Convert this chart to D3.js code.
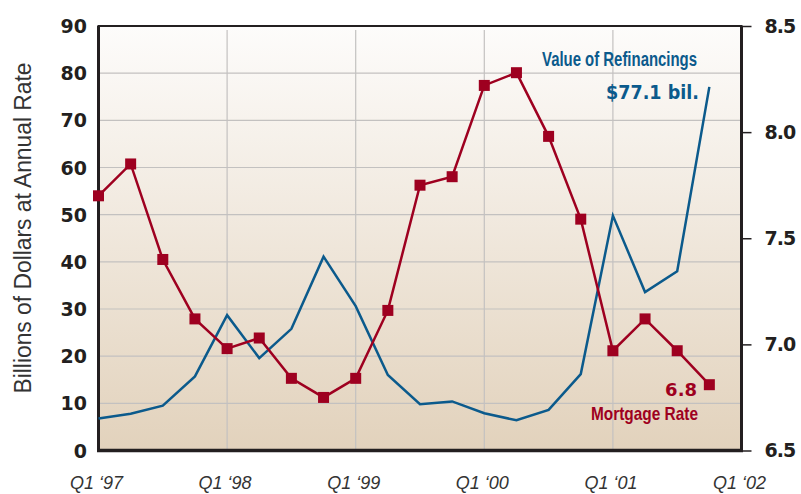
<!DOCTYPE html>
<html>
<head>
<meta charset="utf-8">
<script src="https://cdn.jsdelivr.net/npm/d3@7"></script>
<style>
  body { margin: 0; background: #fff; }
  svg { display: block; font-family: "Liberation Sans", Arial, sans-serif; }
</style>
</head>
<body>
<svg id="chart"></svg>
<script>
// quarters Q1 '97 .. Q4 '01
const quarters = d3.range(20);
const refinancing = [6.8, 7.8, 9.5, 15.7, 28.7, 19.6, 25.8, 41.1, 30.6, 16.0,
  9.8, 10.4, 7.9, 6.4, 8.6, 16.2, 49.8, 33.6, 38.0, 77.1];
const mortgageRate = [7.70, 7.85, 7.40, 7.12, 6.98, 7.03, 6.84, 6.75, 6.84, 7.16,
  7.75, 7.79, 8.22, 8.28, 7.98, 7.59, 6.97, 7.12, 6.97, 6.81];
const yearLabels = ["Q1 \u201897", "Q1 \u201898", "Q1 \u201899", "Q1 \u201800", "Q1 \u201801", "Q1 \u201802"];
const leftTicks = [0, 10, 20, 30, 40, 50, 60, 70, 80, 90];
const rightTicks = [6.5, 7.0, 7.5, 8.0, 8.5];

const width = 801, height = 494;
const plotLeft = 98.5, plotRight = 741.5, plotTop = 26, plotBottom = 450.5;
const blue = "#0b5a8c", red = "#9e0020";
const heavy = "DejaVu Sans, Liberation Sans, sans-serif";

const svg = d3.select("#chart").attr("width", width).attr("height", height);

const x = d3.scaleLinear().domain([0, 20]).range([plotLeft, plotRight]);
const yL = d3.scaleLinear().domain([0, 90]).range([plotBottom, plotTop]);
const yR = d3.scaleLinear().domain([6.5, 8.5]).range([plotBottom, plotTop]);

// background gradient
const grad = svg.append("defs").append("linearGradient")
  .attr("id", "bg").attr("x1", 0).attr("y1", 0).attr("x2", 0).attr("y2", 1);
grad.append("stop").attr("offset", "0%").attr("stop-color", "#fdfcfb");
grad.append("stop").attr("offset", "100%").attr("stop-color", "#e2d2bc");

svg.append("rect")
  .attr("x", plotLeft).attr("y", plotTop)
  .attr("width", plotRight - plotLeft).attr("height", plotBottom - plotTop)
  .attr("fill", "url(#bg)");

// grid
svg.append("g").selectAll("line")
  .data(leftTicks.slice(1, -1))
  .join("line")
  .attr("x1", plotLeft).attr("x2", plotRight)
  .attr("y1", d => yL(d)).attr("y2", d => yL(d))
  .attr("stroke", "#c3c1c0").attr("stroke-width", 1.2);

svg.append("g").selectAll("line")
  .data([4, 8, 12, 16])
  .join("line")
  .attr("x1", d => x(d)).attr("x2", d => x(d))
  .attr("y1", plotTop + 4).attr("y2", plotBottom)
  .attr("stroke", "#c3c1c0").attr("stroke-width", 1.2);

// frame
svg.append("line").attr("x1", plotLeft - 1).attr("x2", plotRight + 1).attr("y1", plotTop).attr("y2", plotTop)
  .attr("stroke", "#231f20").attr("stroke-width", 2);
svg.append("line").attr("x1", plotLeft).attr("x2", plotLeft).attr("y1", plotTop).attr("y2", plotBottom + 1.5)
  .attr("stroke", "#231f20").attr("stroke-width", 3);
svg.append("line").attr("x1", plotRight).attr("x2", plotRight).attr("y1", plotTop).attr("y2", plotBottom + 1.5)
  .attr("stroke", "#231f20").attr("stroke-width", 3);
svg.append("line").attr("x1", plotLeft - 1.5).attr("x2", plotRight + 1.5).attr("y1", plotBottom).attr("y2", plotBottom)
  .attr("stroke", "#231f20").attr("stroke-width", 3.5);

// left axis labels
svg.append("g").selectAll("text")
  .data(leftTicks)
  .join("text")
  .attr("x", 87).attr("y", d => yL(d) + 7)
  .attr("text-anchor", "end")
  .attr("font-family", heavy)
  .attr("font-size", 19).attr("font-weight", "bold")
  .attr("fill", "#231f20")
  .text(d => d);

// right axis
const rAxis = svg.append("g").attr("transform", `translate(${plotRight},0)`)
  .call(d3.axisRight(yR).tickValues(rightTicks).tickSize(10).tickPadding(13).tickFormat(d3.format(".1f")));
rAxis.select(".domain").remove();
rAxis.selectAll(".tick line").attr("stroke", "#231f20").attr("stroke-width", 1.5);
rAxis.selectAll(".tick text")
  .attr("font-family", heavy)
  .attr("font-size", 19).attr("font-weight", "bold").attr("fill", "#231f20")
  .attr("letter-spacing", -1);

// x labels
svg.append("g").selectAll("text")
  .data(yearLabels)
  .join("text")
  .attr("x", (d, i) => x(i * 4) - 2)
  .attr("y", 489)
  .attr("text-anchor", "middle")
  .attr("font-size", 18).attr("font-style", "italic")
  .attr("fill", "#333")
  .text(d => d);

// y title
svg.append("text")
  .attr("transform", `translate(31, 228) rotate(-90)`)
  .attr("text-anchor", "middle")
  .attr("font-size", 23).attr("fill", "#333")
  .attr("textLength", 331).attr("lengthAdjust", "spacingAndGlyphs")
  .text("Billions of Dollars at Annual Rate");

// refinancing line
svg.append("path")
  .datum(refinancing)
  .attr("fill", "none").attr("stroke", blue).attr("stroke-width", 2.5)
  .attr("d", d3.line().x((d, i) => x(quarters[i])).y(d => yL(d)));

// mortgage rate line + markers
svg.append("path")
  .datum(mortgageRate)
  .attr("fill", "none").attr("stroke", red).attr("stroke-width", 2.5)
  .attr("d", d3.line().x((d, i) => x(quarters[i])).y(d => yR(d)));

svg.append("g").selectAll("rect")
  .data(mortgageRate)
  .join("rect")
  .attr("x", (d, i) => x(quarters[i]) - 5.5)
  .attr("y", d => yR(d) - 5.5)
  .attr("width", 11).attr("height", 11)
  .attr("fill", red);

// annotations
svg.append("text")
  .attr("x", 542).attr("y", 66)
  .attr("font-size", 20).attr("font-weight", "bold").attr("fill", blue)
  .attr("textLength", 155).attr("lengthAdjust", "spacingAndGlyphs")
  .text("Value of Refinancings");
svg.append("text")
  .attr("x", 606).attr("y", 99)
  .attr("font-family", heavy)
  .attr("font-size", 19).attr("font-weight", "bold").attr("fill", blue)
  .attr("textLength", 93).attr("lengthAdjust", "spacingAndGlyphs")
  .text("$77.1 bil.");
svg.append("text")
  .attr("x", 697).attr("y", 396)
  .attr("text-anchor", "end")
  .attr("font-family", heavy)
  .attr("font-size", 18).attr("font-weight", "bold").attr("fill", red)
  .text("6.8");
svg.append("text")
  .attr("x", 591).attr("y", 420)
  .attr("font-size", 19).attr("font-weight", "bold").attr("fill", red)
  .attr("textLength", 107).attr("lengthAdjust", "spacingAndGlyphs")
  .text("Mortgage Rate");
</script>
</body>
</html>
